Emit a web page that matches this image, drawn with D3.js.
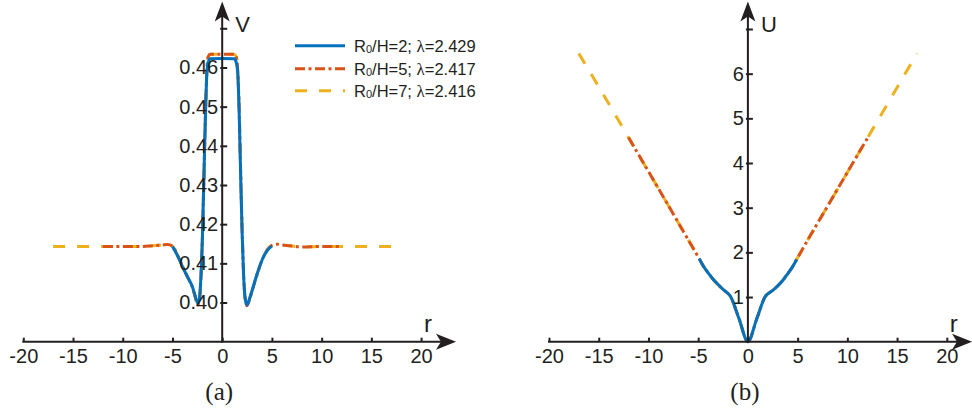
<!DOCTYPE html>
<html>
<head>
<meta charset="utf-8">
<script src="https://cdn.jsdelivr.net/npm/d3@7"></script>
<style>
  html, body { margin: 0; padding: 0; background: #fff; }
  svg { display: block; }
  text { font-family: Arial, "Liberation Sans", sans-serif; fill: #231f20; }
</style>
</head>
<body>
<svg id="chart" width="972" height="411"></svg>
<script>
// ---------------- DATA ----------------
const seriesNames = ["R0/H=2", "R0/H=5", "R0/H=7"];
const lambdas = ["2.429", "2.417", "2.416"];
const seriesRatio = ["2", "5", "7"];

// Panel (a): V(r)
const rV_2 = [-5, -4.5, -4, -3.5, -3, -2.75, -2.45, -2.3, -2.15, -2.0, -1.85, -1.7, -1.55, -1.4, -1.2, 0, 1.2, 1.4, 1.55, 1.7, 1.85, 2.0, 2.15, 2.3, 2.48, 2.75, 3.0, 3.5, 4.0, 4.5, 5.0];
const V_2  = [0.4143, 0.4120, 0.4092, 0.4066, 0.4040, 0.4020, 0.3998, 0.4008, 0.4060, 0.4160, 0.4310, 0.4460, 0.4580, 0.4614, 0.4622, 0.4623, 0.4622, 0.4614, 0.4590, 0.4490, 0.4330, 0.4180, 0.4070, 0.4012, 0.3994, 0.4010, 0.4030, 0.4072, 0.4108, 0.4132, 0.4144];

const rV_5 = [-12, -10, -8, -7, -6, -5.5, -5, -4.5, -4, -3.5, -3, -2.75, -2.45, -2.3, -2.15, -2.0, -1.85, -1.7, -1.55, -1.4, -1.2, 0, 1.2, 1.4, 1.55, 1.7, 1.85, 2.0, 2.15, 2.3, 2.5, 2.75, 3.0, 3.5, 4.0, 4.5, 5.0, 5.5, 6, 7, 8, 10, 12];
const V_5  = [0.4143, 0.4143, 0.4143, 0.4145, 0.4147, 0.4148, 0.4144, 0.4121, 0.4093, 0.4066, 0.4039, 0.4018, 0.3994, 0.4006, 0.4055, 0.4155, 0.4305, 0.4465, 0.4590, 0.4628, 0.4634, 0.4634, 0.4634, 0.4628, 0.4598, 0.4500, 0.4340, 0.4190, 0.4075, 0.4012, 0.3992, 0.4008, 0.4029, 0.4071, 0.4108, 0.4133, 0.4146, 0.4149, 0.4147, 0.4144, 0.4142, 0.4143, 0.4143];

const rV_7 = [-17, -14, -12, -10, -8, -7, -6, -5.5, -5, -4.5, -4, -3.5, -3, -2.75, -2.45, -2.3, -2.15, -2.0, -1.85, -1.7, -1.55, -1.4, -1.2, 0, 1.2, 1.4, 1.55, 1.7, 1.85, 2.0, 2.15, 2.3, 2.5, 2.75, 3.0, 3.5, 4.0, 4.5, 5.0, 5.5, 6, 7, 8, 10, 12, 14, 17];
const V_7  = [0.4143, 0.4143, 0.4143, 0.4143, 0.4143, 0.4145, 0.4147, 0.4148, 0.4144, 0.4121, 0.4093, 0.4066, 0.4039, 0.4018, 0.3993, 0.4006, 0.4055, 0.4155, 0.4305, 0.4465, 0.4590, 0.4628, 0.4634, 0.4634, 0.4634, 0.4628, 0.4598, 0.4500, 0.4340, 0.4190, 0.4075, 0.4012, 0.3991, 0.4008, 0.4029, 0.4071, 0.4108, 0.4133, 0.4146, 0.4149, 0.4147, 0.4144, 0.4142, 0.4143, 0.4143, 0.4143, 0.4143];

// Panel (b): U(r)
const rU_2 = [-4.9, -4.5, -4, -3.5, -3, -2.5, -2, -1.8, -0.9, 0, 0.9, 1.8, 2, 2.5, 3, 3.5, 4, 4.5, 4.9];
const U_2  = [1.86, 1.70, 1.54, 1.40, 1.28, 1.17, 1.08, 1.03, 0.52, 0, 0.52, 1.03, 1.07, 1.15, 1.25, 1.37, 1.52, 1.68, 1.84];

const rU_5 = [-12, -10, -8, -6, -4.9, -4.5, -4, -3.5, -3, -2.5, -2, -1.8, -0.9, 0, 0.9, 1.8, 2, 2.5, 3, 3.5, 4, 4.5, 4.9, 6, 8, 10, 12];
const U_5  = [4.57, 3.81, 3.05, 2.28, 1.86, 1.70, 1.54, 1.40, 1.28, 1.17, 1.08, 1.03, 0.52, 0, 0.52, 1.03, 1.07, 1.15, 1.25, 1.37, 1.52, 1.68, 1.84, 2.27, 3.03, 3.79, 4.55];

const rU_7 = [-17, -14, -12, -10, -8, -6, -4.9, -4.5, -4, -3.5, -3, -2.5, -2, -1.8, -0.9, 0, 0.9, 1.8, 2, 2.5, 3, 3.5, 4, 4.5, 4.9, 6, 8, 10, 12, 14, 17];
const U_7  = [6.45, 5.33, 4.57, 3.81, 3.05, 2.28, 1.86, 1.70, 1.54, 1.40, 1.28, 1.17, 1.08, 1.03, 0.52, 0, 0.52, 1.03, 1.07, 1.15, 1.25, 1.37, 1.52, 1.68, 1.84, 2.27, 3.03, 3.79, 4.55, 5.31, 6.45];

// Ticks
const xTicks = [-20, -15, -10, -5, 0, 5, 10, 15, 20];
const xTickLabels = ["-20", "-15", "-10", "-5", "0", "5", "10", "15", "20"];
const vTicks = [0.40, 0.41, 0.42, 0.43, 0.44, 0.45, 0.46, 0.47];
const vTickLabels = ["0.40", "0.41", "0.42", "0.43", "0.44", "0.45", "0.46", ""];
const uTicks = [1, 2, 3, 4, 5, 6, 7];
const uTickLabels = ["1", "2", "3", "4", "5", "6", ""];

// ---------------- STYLE ----------------
const colors = ["#0072BD", "#D95319", "#EDB120"];
const dashes = [null, "10,3.5,3,3.5", "12,12"];
const axisColor = "#231f20";
const sansFont = 'Arial, "Liberation Sans", sans-serif';
const serifFont = '"Times New Roman", "Liberation Serif", serif';

const svg = d3.select("#chart");

function zip(rs, vs) { return rs.map((r, i) => [r, vs[i]]); }

function drawPanel(opts) {
  const { xRange, yDomain, yRange, data, yTicks, yLabels, yName, panelLabel, arrowTopY, arrowRightX } = opts;
  const x = d3.scaleLinear().domain([-20, 20]).range(xRange);
  const y = d3.scaleLinear().domain(yDomain).range(yRange);
  const g = svg.append("g");

  // curves: yellow bottom, red, blue on top
  const line = d3.line().x(d => x(d[0])).y(d => y(d[1])).curve(d3.curveMonotoneX);
  [2, 1, 0].forEach(i => {
    g.append("path")
      .datum(data[i])
      .attr("fill", "none")
      .attr("stroke", colors[i])
      .attr("stroke-width", 3)
      .attr("stroke-dasharray", dashes[i])
      .attr("stroke-linejoin", "round")
      .attr("d", line);
  });

  const y0 = y(yDomain[0]);
  const x0 = x(0);

  // x axis
  const xAxis = d3.axisBottom(x).tickValues(xTicks).tickSizeInner(-4).tickSizeOuter(0).tickPadding(7.5)
    .tickFormat((d, i) => xTickLabels[i]);
  const gx = g.append("g").attr("transform", `translate(0,${y0})`).call(xAxis)
    .attr("font-family", sansFont);
  gx.select(".domain").remove();
  gx.selectAll(".tick line").attr("stroke", axisColor).attr("stroke-width", 2);
  gx.selectAll(".tick text").attr("font-size", 20).attr("fill", axisColor).style("font-family", sansFont);
  g.append("line").attr("x1", x(-20) - 1).attr("x2", arrowRightX - 10).attr("y1", y0).attr("y2", y0)
    .attr("stroke", axisColor).attr("stroke-width", 2);
  g.append("path")
    .attr("d", `M${arrowRightX},${y0} L${arrowRightX - 20},${y0 - 8} L${arrowRightX - 15},${y0} L${arrowRightX - 20},${y0 + 8} Z`)
    .attr("fill", axisColor);

  // y axis
  const yAxis = d3.axisLeft(y).tickValues(yTicks).tickSizeInner(-5).tickSizeOuter(0).tickPadding(4)
    .tickFormat((d, i) => yLabels[i]);
  const gy = g.append("g").attr("transform", `translate(${x0},0)`).call(yAxis)
    .attr("font-family", sansFont);
  gy.select(".domain").remove();
  gy.selectAll(".tick line").attr("x1", -2).attr("x2", 5).attr("stroke", axisColor).attr("stroke-width", 2);
  gy.selectAll(".tick text").attr("font-size", 20).attr("fill", axisColor).style("font-family", sansFont);
  g.append("line").attr("x1", x0).attr("x2", x0).attr("y1", y0 + 1).attr("y2", arrowTopY + 10)
    .attr("stroke", axisColor).attr("stroke-width", 2);
  g.append("path")
    .attr("d", `M${x0},${arrowTopY} L${x0 - 7.5},${arrowTopY + 20} L${x0},${arrowTopY + 15} L${x0 + 7.5},${arrowTopY + 20} Z`)
    .attr("fill", axisColor);

  // axis names
  g.append("text").attr("x", x0 + 13).attr("y", 31.5).attr("font-size", 22).text(yName);
  g.append("text").attr("x", x(20) + 3).attr("y", 332).attr("font-size", 24).text("r");

  // panel label
  g.append("text").attr("x", x0 - 3).attr("y", 400).attr("text-anchor", "middle")
    .attr("font-size", 25).style("font-family", serifFont)
    .text(panelLabel);
  return { x, y, g };
}

drawPanel({
  xRange: [23.3, 421.1],
  yDomain: [0.39, 0.47],
  yRange: [341.7, 28.3],
  data: [zip(rV_2, V_2), zip(rV_5, V_5), zip(rV_7, V_7)],
  yTicks: vTicks, yLabels: vTickLabels, yName: "V", panelLabel: "(a)",
  arrowTopY: 1.5, arrowRightX: 456
});

drawPanel({
  xRange: [549, 946.8],
  yDomain: [0, 7],
  yRange: [341.7, 29],
  data: [zip(rU_2, U_2), zip(rU_5, U_5), zip(rU_7, U_7)],
  yTicks: uTicks, yLabels: uTickLabels, yName: "U", panelLabel: "(b)",
  arrowTopY: 1.5, arrowRightX: 972
});

// legend
const legY = [45.7, 68.8, 90.7];
const leg = svg.append("g");
seriesNames.forEach((name, i) => {
  leg.append("line").attr("x1", 295).attr("x2", 345).attr("y1", legY[i]).attr("y2", legY[i])
    .attr("stroke", colors[i]).attr("stroke-width", 3).attr("stroke-dasharray", dashes[i]);
  const t = leg.append("text").attr("x", 354).attr("y", legY[i] + 5.8).attr("font-size", 16.5);
  t.append("tspan").text("R");
  t.append("tspan").attr("font-size", 11).attr("dy", 1.5).text("0");
  t.append("tspan").attr("dy", -1.5).text("/H=" + seriesRatio[i] + "; ");
  t.append("tspan").style("font-family", serifFont).attr("font-size", 17).text("λ");
  t.append("tspan").text("=" + lambdas[i]);
});
</script>
</body>
</html>
